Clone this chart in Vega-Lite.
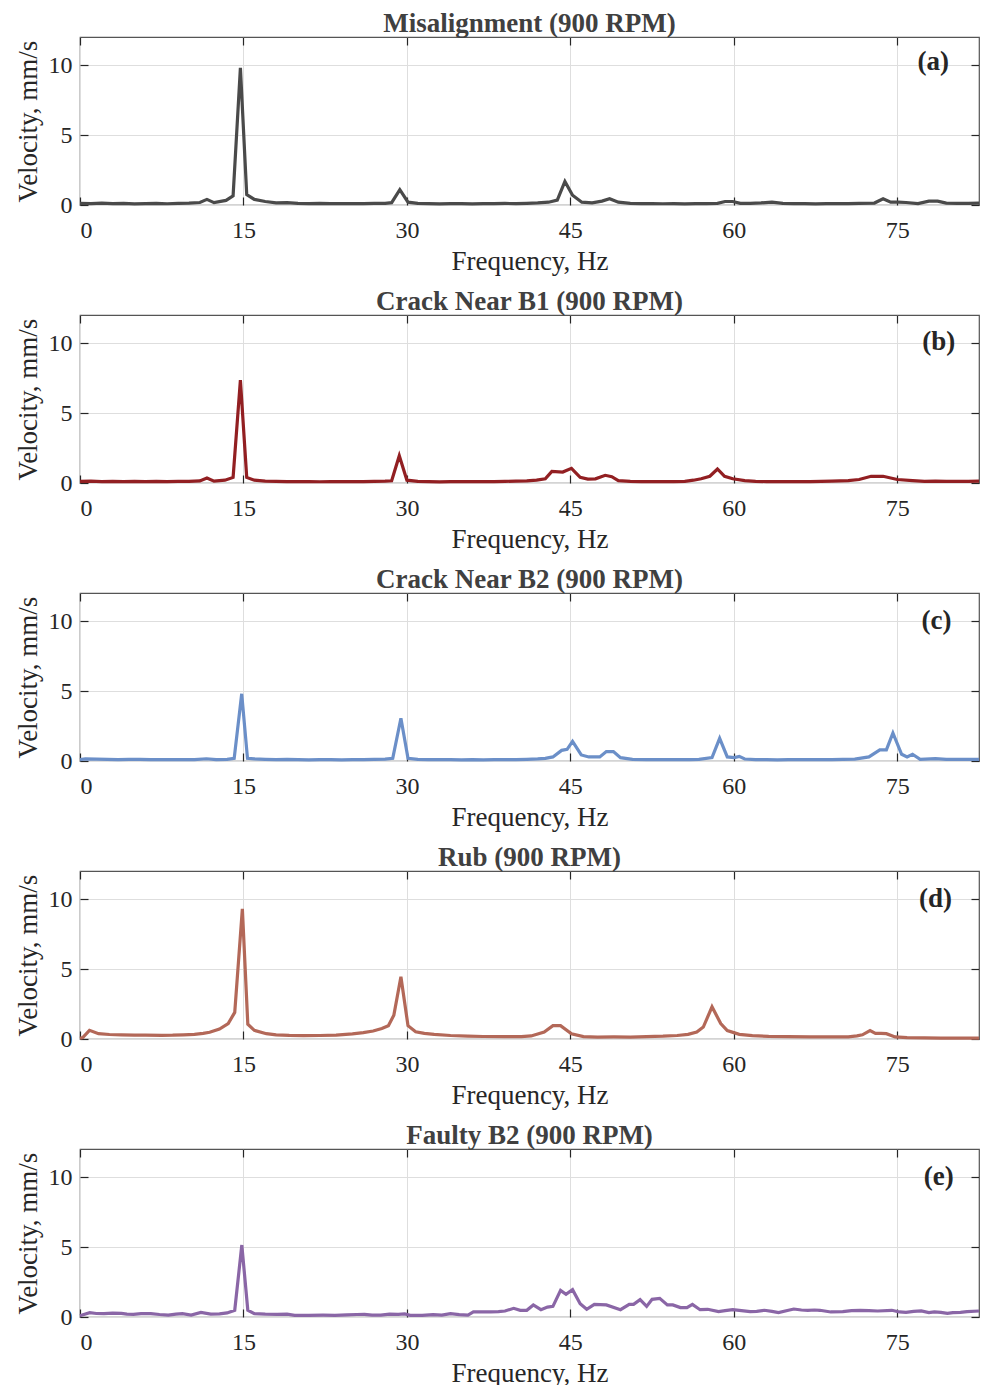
{
  "$schema": "https://vega.github.io/schema/vega-lite/v6.json",
  "background": "white",
  "padding": {"left": 13, "top": 9, "right": 0, "bottom": 0},
  "spacing": 110,
  "bounds": "flush",
  "datasets": {
    "a": [
      {"f":0,"v":0.12},{"f":1,"v":0.1},{"f":2,"v":0.13},{"f":3,"v":0.1},{"f":4,"v":0.12},{"f":5,"v":0.08},{"f":6,"v":0.1},{"f":7,"v":0.11},{"f":8,"v":0.09},{"f":9,"v":0.12},{"f":10,"v":0.13},{"f":11,"v":0.18},{"f":11.65,"v":0.4},{"f":12.3,"v":0.17},{"f":13.4,"v":0.33},{"f":14.05,"v":0.65},{"f":14.72,"v":9.8},{"f":15.3,"v":0.75},{"f":16.0,"v":0.4},{"f":17.0,"v":0.25},{"f":18,"v":0.15},{"f":19,"v":0.17},{"f":20,"v":0.12},{"f":21,"v":0.1},{"f":22,"v":0.11},{"f":23,"v":0.1},{"f":24,"v":0.1},{"f":25,"v":0.1},{"f":26,"v":0.1},{"f":27,"v":0.11},{"f":28,"v":0.12},{"f":28.6,"v":0.17},{"f":29.35,"v":1.1},{"f":30.1,"v":0.2},{"f":31,"v":0.12},{"f":32,"v":0.1},{"f":33,"v":0.08},{"f":34,"v":0.1},{"f":35,"v":0.1},{"f":36,"v":0.08},{"f":37,"v":0.1},{"f":38,"v":0.1},{"f":39,"v":0.11},{"f":40,"v":0.1},{"f":41,"v":0.12},{"f":42,"v":0.15},{"f":43,"v":0.2},{"f":43.8,"v":0.35},{"f":44.5,"v":1.68},{"f":45.2,"v":0.7},{"f":46.05,"v":0.2},{"f":47,"v":0.15},{"f":47.9,"v":0.28},{"f":48.6,"v":0.45},{"f":49.4,"v":0.2},{"f":50.5,"v":0.12},{"f":51.5,"v":0.1},{"f":52.5,"v":0.1},{"f":53.5,"v":0.09},{"f":54.5,"v":0.1},{"f":55.5,"v":0.08},{"f":56.5,"v":0.1},{"f":57.5,"v":0.1},{"f":58.5,"v":0.12},{"f":59.2,"v":0.25},{"f":59.9,"v":0.25},{"f":60.6,"v":0.12},{"f":61.5,"v":0.12},{"f":62.5,"v":0.15},{"f":63.5,"v":0.2},{"f":64.5,"v":0.12},{"f":65.5,"v":0.1},{"f":66.5,"v":0.1},{"f":67.5,"v":0.08},{"f":68.5,"v":0.1},{"f":69.5,"v":0.1},{"f":70.5,"v":0.1},{"f":71.5,"v":0.12},{"f":72.9,"v":0.14},{"f":73.7,"v":0.45},{"f":74.4,"v":0.2},{"f":75.1,"v":0.2},{"f":75.8,"v":0.18},{"f":76.9,"v":0.1},{"f":77.9,"v":0.28},{"f":78.7,"v":0.28},{"f":79.5,"v":0.14},{"f":80.5,"v":0.12},{"f":81.5,"v":0.12},{"f":82.5,"v":0.13}
    ],
    "b": [
      {"f":0,"v":0.12},{"f":1,"v":0.14},{"f":2,"v":0.1},{"f":3,"v":0.12},{"f":4,"v":0.1},{"f":5,"v":0.12},{"f":6,"v":0.1},{"f":7,"v":0.11},{"f":8,"v":0.1},{"f":9,"v":0.12},{"f":10,"v":0.12},{"f":11,"v":0.15},{"f":11.65,"v":0.36},{"f":12.3,"v":0.13},{"f":13.3,"v":0.2},{"f":14.05,"v":0.4},{"f":14.72,"v":7.35},{"f":15.3,"v":0.4},{"f":16.0,"v":0.2},{"f":17,"v":0.14},{"f":18,"v":0.12},{"f":19,"v":0.1},{"f":20,"v":0.1},{"f":21,"v":0.1},{"f":22,"v":0.09},{"f":23,"v":0.1},{"f":24,"v":0.1},{"f":25,"v":0.1},{"f":26,"v":0.1},{"f":27,"v":0.12},{"f":28,"v":0.13},{"f":28.6,"v":0.16},{"f":29.3,"v":1.95},{"f":30.0,"v":0.2},{"f":31,"v":0.12},{"f":32,"v":0.1},{"f":33,"v":0.08},{"f":34,"v":0.1},{"f":35,"v":0.1},{"f":36,"v":0.1},{"f":37,"v":0.1},{"f":38,"v":0.1},{"f":39,"v":0.12},{"f":40,"v":0.13},{"f":41,"v":0.15},{"f":41.9,"v":0.2},{"f":42.7,"v":0.3},{"f":43.3,"v":0.83},{"f":44.3,"v":0.78},{"f":45.1,"v":1.05},{"f":45.9,"v":0.4},{"f":46.6,"v":0.28},{"f":47.3,"v":0.3},{"f":48.2,"v":0.55},{"f":48.8,"v":0.45},{"f":49.4,"v":0.17},{"f":50.5,"v":0.12},{"f":51.5,"v":0.1},{"f":52.5,"v":0.1},{"f":53.5,"v":0.1},{"f":54.5,"v":0.1},{"f":55.5,"v":0.12},{"f":56.3,"v":0.2},{"f":57.0,"v":0.3},{"f":57.8,"v":0.48},{"f":58.5,"v":1.0},{"f":59.15,"v":0.48},{"f":59.9,"v":0.3},{"f":61.0,"v":0.17},{"f":62,"v":0.12},{"f":63,"v":0.1},{"f":64,"v":0.1},{"f":65,"v":0.1},{"f":66,"v":0.1},{"f":67,"v":0.1},{"f":68,"v":0.12},{"f":69,"v":0.13},{"f":70.5,"v":0.17},{"f":71.5,"v":0.25},{"f":72.6,"v":0.48},{"f":73.7,"v":0.48},{"f":75.0,"v":0.25},{"f":76.4,"v":0.17},{"f":77.5,"v":0.12},{"f":78.5,"v":0.14},{"f":79.5,"v":0.12},{"f":80.5,"v":0.12},{"f":81.5,"v":0.12},{"f":82.5,"v":0.13}
    ],
    "c": [
      {"f":0,"v":0.1},{"f":0.5,"v":0.15},{"f":1.5,"v":0.13},{"f":2.5,"v":0.12},{"f":3.5,"v":0.1},{"f":4.5,"v":0.12},{"f":5.5,"v":0.12},{"f":6.5,"v":0.1},{"f":7.5,"v":0.1},{"f":8.5,"v":0.1},{"f":9.5,"v":0.1},{"f":10.5,"v":0.1},{"f":11.6,"v":0.16},{"f":12.5,"v":0.1},{"f":13.5,"v":0.12},{"f":14.15,"v":0.19},{"f":14.84,"v":4.8},{"f":15.37,"v":0.19},{"f":16,"v":0.15},{"f":17,"v":0.12},{"f":18,"v":0.1},{"f":19,"v":0.12},{"f":20,"v":0.1},{"f":21,"v":0.08},{"f":22,"v":0.1},{"f":23,"v":0.1},{"f":24,"v":0.08},{"f":25,"v":0.1},{"f":26,"v":0.1},{"f":27,"v":0.11},{"f":28,"v":0.13},{"f":28.7,"v":0.19},{"f":29.45,"v":3.05},{"f":30.1,"v":0.19},{"f":31,"v":0.12},{"f":32,"v":0.1},{"f":33,"v":0.1},{"f":34,"v":0.1},{"f":35,"v":0.08},{"f":36,"v":0.1},{"f":37,"v":0.08},{"f":38,"v":0.1},{"f":39,"v":0.1},{"f":40,"v":0.1},{"f":41,"v":0.12},{"f":42,"v":0.15},{"f":42.7,"v":0.19},{"f":43.4,"v":0.29},{"f":44.2,"v":0.76},{"f":44.7,"v":0.83},{"f":45.2,"v":1.4},{"f":46.0,"v":0.43},{"f":46.7,"v":0.29},{"f":47.7,"v":0.29},{"f":48.3,"v":0.67},{"f":48.95,"v":0.67},{"f":49.6,"v":0.24},{"f":50.7,"v":0.12},{"f":52,"v":0.1},{"f":53,"v":0.1},{"f":54,"v":0.1},{"f":55,"v":0.1},{"f":56,"v":0.1},{"f":56.8,"v":0.12},{"f":58.0,"v":0.24},{"f":58.7,"v":1.62},{"f":59.4,"v":0.29},{"f":60.05,"v":0.24},{"f":60.5,"v":0.33},{"f":61.0,"v":0.14},{"f":62,"v":0.1},{"f":63,"v":0.1},{"f":64,"v":0.08},{"f":65,"v":0.1},{"f":66,"v":0.1},{"f":67,"v":0.1},{"f":68,"v":0.1},{"f":69,"v":0.1},{"f":70,"v":0.12},{"f":71.1,"v":0.14},{"f":72.4,"v":0.29},{"f":73.4,"v":0.79},{"f":74.0,"v":0.79},{"f":74.6,"v":2.0},{"f":75.4,"v":0.48},{"f":75.9,"v":0.29},{"f":76.4,"v":0.48},{"f":77.1,"v":0.12},{"f":78.5,"v":0.17},{"f":79.5,"v":0.12},{"f":80.5,"v":0.12},{"f":81.5,"v":0.12},{"f":82.5,"v":0.12}
    ],
    "d": [
      {"f":0,"v":0.05},{"f":0.25,"v":0.1},{"f":0.87,"v":0.62},{"f":1.7,"v":0.38},{"f":2.7,"v":0.32},{"f":3.8,"v":0.29},{"f":5,"v":0.27},{"f":6,"v":0.27},{"f":7.5,"v":0.26},{"f":8.5,"v":0.27},{"f":9.5,"v":0.3},{"f":10.5,"v":0.33},{"f":11.3,"v":0.4},{"f":11.9,"v":0.48},{"f":12.8,"v":0.71},{"f":13.6,"v":1.1},{"f":14.2,"v":1.9},{"f":14.9,"v":9.3},{"f":15.4,"v":1.05},{"f":16.0,"v":0.62},{"f":17.1,"v":0.38},{"f":18,"v":0.3},{"f":19.2,"v":0.26},{"f":20.5,"v":0.24},{"f":22,"v":0.25},{"f":23.5,"v":0.28},{"f":25,"v":0.36},{"f":26,"v":0.45},{"f":26.9,"v":0.57},{"f":27.7,"v":0.75},{"f":28.3,"v":0.95},{"f":28.8,"v":1.7},{"f":29.45,"v":4.45},{"f":30.1,"v":0.95},{"f":30.8,"v":0.52},{"f":31.6,"v":0.4},{"f":32.5,"v":0.33},{"f":34,"v":0.25},{"f":35.6,"v":0.2},{"f":37,"v":0.18},{"f":39,"v":0.17},{"f":40.5,"v":0.17},{"f":41.4,"v":0.22},{"f":42.6,"v":0.5},{"f":43.4,"v":0.95},{"f":44.1,"v":0.95},{"f":45.1,"v":0.38},{"f":46.2,"v":0.17},{"f":47.5,"v":0.14},{"f":49,"v":0.15},{"f":50.5,"v":0.14},{"f":52,"v":0.17},{"f":53.5,"v":0.2},{"f":54.8,"v":0.25},{"f":55.8,"v":0.33},{"f":56.6,"v":0.5},{"f":57.2,"v":0.85},{"f":58.0,"v":2.3},{"f":58.8,"v":1.1},{"f":59.4,"v":0.6},{"f":60.5,"v":0.33},{"f":61.7,"v":0.24},{"f":63.2,"v":0.19},{"f":65,"v":0.17},{"f":67,"v":0.15},{"f":69,"v":0.15},{"f":70.5,"v":0.15},{"f":71.3,"v":0.22},{"f":71.8,"v":0.3},{"f":72.5,"v":0.6},{"f":73.0,"v":0.4},{"f":73.5,"v":0.4},{"f":74.0,"v":0.38},{"f":74.8,"v":0.15},{"f":75.9,"v":0.1},{"f":77.5,"v":0.08},{"f":79,"v":0.06},{"f":80.5,"v":0.06},{"f":82.5,"v":0.06}
    ],
    "e": [
      {"f":0,"v":0.1},{"f":0.2,"v":0.14},{"f":0.9,"v":0.31},{"f":1.5,"v":0.25},{"f":2.2,"v":0.24},{"f":3.0,"v":0.27},{"f":3.8,"v":0.26},{"f":4.3,"v":0.2},{"f":4.9,"v":0.19},{"f":5.6,"v":0.24},{"f":6.5,"v":0.24},{"f":7.3,"v":0.18},{"f":8.1,"v":0.14},{"f":8.8,"v":0.2},{"f":9.4,"v":0.24},{"f":10.2,"v":0.14},{"f":11.1,"v":0.33},{"f":12.0,"v":0.21},{"f":12.8,"v":0.22},{"f":13.5,"v":0.29},{"f":14.2,"v":0.48},{"f":14.85,"v":5.14},{"f":15.4,"v":0.48},{"f":16.0,"v":0.24},{"f":17,"v":0.2},{"f":18.1,"v":0.19},{"f":19.0,"v":0.2},{"f":19.7,"v":0.12},{"f":21,"v":0.12},{"f":22.3,"v":0.13},{"f":23.4,"v":0.12},{"f":24.5,"v":0.15},{"f":25.4,"v":0.18},{"f":26.1,"v":0.19},{"f":26.8,"v":0.13},{"f":27.6,"v":0.14},{"f":28.4,"v":0.2},{"f":29.2,"v":0.19},{"f":29.8,"v":0.22},{"f":30.3,"v":0.12},{"f":31.4,"v":0.12},{"f":32.4,"v":0.17},{"f":33.2,"v":0.14},{"f":34.0,"v":0.24},{"f":34.8,"v":0.17},{"f":35.6,"v":0.14},{"f":36.1,"v":0.36},{"f":37.0,"v":0.36},{"f":37.7,"v":0.36},{"f":38.4,"v":0.38},{"f":39.0,"v":0.43},{"f":39.8,"v":0.62},{"f":40.4,"v":0.48},{"f":41.0,"v":0.48},{"f":41.6,"v":0.86},{"f":42.3,"v":0.52},{"f":42.9,"v":0.71},{"f":43.4,"v":0.76},{"f":44.1,"v":1.9},{"f":44.6,"v":1.62},{"f":45.2,"v":1.95},{"f":45.9,"v":0.95},{"f":46.5,"v":0.55},{"f":47.2,"v":0.9},{"f":48.3,"v":0.86},{"f":49.6,"v":0.52},{"f":50.4,"v":0.9},{"f":50.8,"v":0.9},{"f":51.4,"v":1.24},{"f":52.0,"v":0.76},{"f":52.5,"v":1.26},{"f":53.2,"v":1.33},{"f":53.9,"v":0.86},{"f":54.4,"v":0.86},{"f":55.1,"v":0.67},{"f":55.7,"v":0.67},{"f":56.2,"v":0.9},{"f":56.9,"v":0.52},{"f":57.6,"v":0.55},{"f":58.6,"v":0.38},{"f":59.2,"v":0.45},{"f":59.9,"v":0.52},{"f":60.7,"v":0.45},{"f":61.5,"v":0.38},{"f":62.1,"v":0.4},{"f":62.8,"v":0.48},{"f":63.5,"v":0.4},{"f":64.1,"v":0.31},{"f":65.5,"v":0.57},{"f":66.2,"v":0.5},{"f":66.8,"v":0.48},{"f":67.4,"v":0.5},{"f":67.9,"v":0.48},{"f":68.9,"v":0.36},{"f":70.0,"v":0.38},{"f":70.8,"v":0.45},{"f":71.6,"v":0.48},{"f":72.4,"v":0.46},{"f":73.2,"v":0.43},{"f":74.5,"v":0.48},{"f":75.2,"v":0.36},{"f":75.8,"v":0.33},{"f":76.5,"v":0.4},{"f":77.2,"v":0.43},{"f":77.9,"v":0.31},{"f":78.4,"v":0.36},{"f":79.0,"v":0.33},{"f":79.6,"v":0.26},{"f":80.1,"v":0.31},{"f":80.8,"v":0.33},{"f":81.4,"v":0.38},{"f":82.5,"v":0.43}
    ]
  },
  "vconcat": [
    {
      "title": "Misalignment (900 RPM)",
      "width": 899, "height": 168,
      "layer": [
        {"data": {"name": "a"}, "mark": {"type": "line", "color": "#4a4a4a", "strokeWidth": 3.2},
         "encoding": {
           "x": {"field": "f", "type": "quantitative", "scale": {"domain": [0, 82.5], "nice": false}, "axis": {"title": "Frequency, Hz", "values": [0, 15, 30, 45, 60, 75]}},
           "y": {"field": "v", "type": "quantitative", "scale": {"domain": [0, 12], "nice": false}, "axis": {"title": "Velocity, mm/s", "values": [0, 5, 10]}}}},
        {"data": {"values": [{"tag": "(a)"}]}, "mark": {"type": "text", "fontWeight": "bold", "fontSize": 27, "color": "#262626", "font": "Liberation Serif"},
         "encoding": {
           "x": {"datum": 78.3, "type": "quantitative", "axis": {"orient": "top", "labels": false, "title": null, "grid": false, "values": [0, 15, 30, 45, 60, 75]}},
           "y": {"datum": 10.2, "type": "quantitative", "axis": {"orient": "right", "labels": false, "title": null, "grid": false, "values": [0, 5, 10]}},
           "text": {"field": "tag"}}}
      ],
      "resolve": {"axis": {"x": "independent", "y": "independent"}}
    },
    {
      "title": "Crack Near B1 (900 RPM)",
      "width": 899, "height": 168,
      "layer": [
        {"data": {"name": "b"}, "mark": {"type": "line", "color": "#921f22", "strokeWidth": 3.2},
         "encoding": {
           "x": {"field": "f", "type": "quantitative", "scale": {"domain": [0, 82.5], "nice": false}, "axis": {"title": "Frequency, Hz", "values": [0, 15, 30, 45, 60, 75]}},
           "y": {"field": "v", "type": "quantitative", "scale": {"domain": [0, 12], "nice": false}, "axis": {"title": "Velocity, mm/s", "values": [0, 5, 10]}}}},
        {"data": {"values": [{"tag": "(b)"}]}, "mark": {"type": "text", "fontWeight": "bold", "fontSize": 27, "color": "#262626", "font": "Liberation Serif"},
         "encoding": {
           "x": {"datum": 78.8, "type": "quantitative", "axis": {"orient": "top", "labels": false, "title": null, "grid": false, "values": [0, 15, 30, 45, 60, 75]}},
           "y": {"datum": 10.05, "type": "quantitative", "axis": {"orient": "right", "labels": false, "title": null, "grid": false, "values": [0, 5, 10]}},
           "text": {"field": "tag"}}}
      ],
      "resolve": {"axis": {"x": "independent", "y": "independent"}}
    },
    {
      "title": "Crack Near B2 (900 RPM)",
      "width": 899, "height": 168,
      "layer": [
        {"data": {"name": "c"}, "mark": {"type": "line", "color": "#6b8fc8", "strokeWidth": 3.2},
         "encoding": {
           "x": {"field": "f", "type": "quantitative", "scale": {"domain": [0, 82.5], "nice": false}, "axis": {"title": "Frequency, Hz", "values": [0, 15, 30, 45, 60, 75]}},
           "y": {"field": "v", "type": "quantitative", "scale": {"domain": [0, 12], "nice": false}, "axis": {"title": "Velocity, mm/s", "values": [0, 5, 10]}}}},
        {"data": {"values": [{"tag": "(c)"}]}, "mark": {"type": "text", "fontWeight": "bold", "fontSize": 27, "color": "#262626", "font": "Liberation Serif"},
         "encoding": {
           "x": {"datum": 78.6, "type": "quantitative", "axis": {"orient": "top", "labels": false, "title": null, "grid": false, "values": [0, 15, 30, 45, 60, 75]}},
           "y": {"datum": 10.0, "type": "quantitative", "axis": {"orient": "right", "labels": false, "title": null, "grid": false, "values": [0, 5, 10]}},
           "text": {"field": "tag"}}}
      ],
      "resolve": {"axis": {"x": "independent", "y": "independent"}}
    },
    {
      "title": "Rub (900 RPM)",
      "width": 899, "height": 168,
      "layer": [
        {"data": {"name": "d"}, "mark": {"type": "line", "color": "#b36858", "strokeWidth": 3.2},
         "encoding": {
           "x": {"field": "f", "type": "quantitative", "scale": {"domain": [0, 82.5], "nice": false}, "axis": {"title": "Frequency, Hz", "values": [0, 15, 30, 45, 60, 75]}},
           "y": {"field": "v", "type": "quantitative", "scale": {"domain": [0, 12], "nice": false}, "axis": {"title": "Velocity, mm/s", "values": [0, 5, 10]}}}},
        {"data": {"values": [{"tag": "(d)"}]}, "mark": {"type": "text", "fontWeight": "bold", "fontSize": 27, "color": "#262626", "font": "Liberation Serif"},
         "encoding": {
           "x": {"datum": 78.5, "type": "quantitative", "axis": {"orient": "top", "labels": false, "title": null, "grid": false, "values": [0, 15, 30, 45, 60, 75]}},
           "y": {"datum": 10.0, "type": "quantitative", "axis": {"orient": "right", "labels": false, "title": null, "grid": false, "values": [0, 5, 10]}},
           "text": {"field": "tag"}}}
      ],
      "resolve": {"axis": {"x": "independent", "y": "independent"}}
    },
    {
      "title": "Faulty B2 (900 RPM)",
      "width": 899, "height": 168,
      "layer": [
        {"data": {"name": "e"}, "mark": {"type": "line", "color": "#8a66a6", "strokeWidth": 3.2},
         "encoding": {
           "x": {"field": "f", "type": "quantitative", "scale": {"domain": [0, 82.5], "nice": false}, "axis": {"title": "Frequency, Hz", "values": [0, 15, 30, 45, 60, 75]}},
           "y": {"field": "v", "type": "quantitative", "scale": {"domain": [0, 12], "nice": false}, "axis": {"title": "Velocity, mm/s", "values": [0, 5, 10]}}}},
        {"data": {"values": [{"tag": "(e)"}]}, "mark": {"type": "text", "fontWeight": "bold", "fontSize": 27, "color": "#262626", "font": "Liberation Serif"},
         "encoding": {
           "x": {"datum": 78.8, "type": "quantitative", "axis": {"orient": "top", "labels": false, "title": null, "grid": false, "values": [0, 15, 30, 45, 60, 75]}},
           "y": {"datum": 10.0, "type": "quantitative", "axis": {"orient": "right", "labels": false, "title": null, "grid": false, "values": [0, 5, 10]}},
           "text": {"field": "tag"}}}
      ],
      "resolve": {"axis": {"x": "independent", "y": "independent"}}
    }
  ],
  "config": {
    "font": "Liberation Serif",
    "view": {"stroke": "#555555", "strokeWidth": 1.2},
    "axis": {
      "labelFont": "Liberation Serif", "labelFontSize": 24, "labelColor": "#262626",
      "titleFont": "Liberation Serif", "titleFontSize": 27, "titleFontWeight": "normal", "titleColor": "#262626",
      "grid": true, "gridColor": "#dedede", "gridWidth": 1,
      "domain": false, "ticks": true, "tickColor": "#262626", "tickSize": -8, "tickWidth": 1.2
    },
    "axisY": {"titlePadding": 6, "labelPadding": 16},
    "axisX": {"titlePadding": 6, "labelPadding": 21},
    "title": {"font": "Liberation Serif", "fontSize": 27, "fontWeight": "bold", "color": "#404040", "anchor": "middle", "frame": "group", "offset": -2}
  }
}
